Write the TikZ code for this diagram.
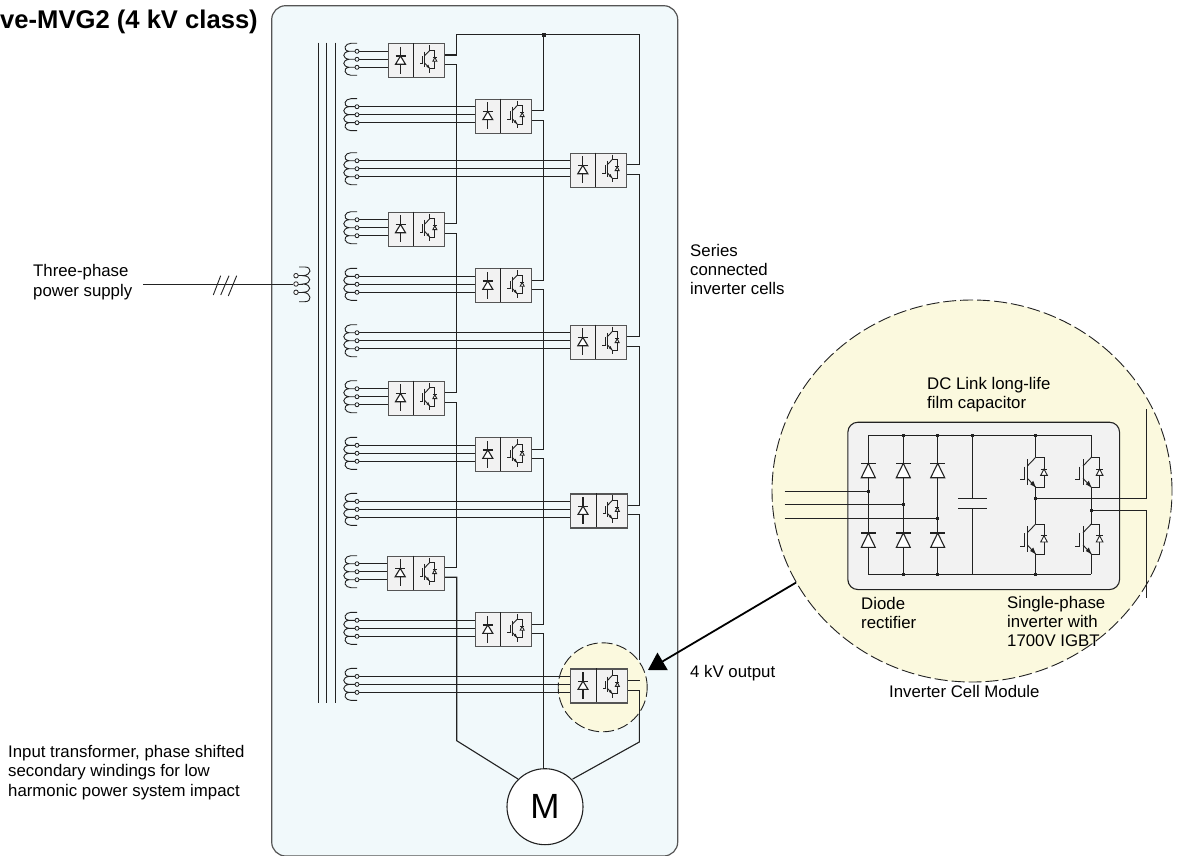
\documentclass[tikz,border=0pt]{standalone}
\usepackage{fontspec}
\setmainfont{Liberation Sans}
\usetikzlibrary{arrows.meta,shapes.geometric}
\definecolor{panelblue}{HTML}{F1F9FB}
\definecolor{cream}{HTML}{FBF9DE}
\definecolor{boxgrey}{HTML}{F2F2F2}
\definecolor{ink}{HTML}{222222}
\definecolor{edge}{HTML}{555555}
\tikzset{
  x=1pt,y=-1pt,
  wire/.style={draw=ink,line width=1.1pt},
  thin wire/.style={draw=ink,line width=.9pt},
  dot/.style={rectangle,fill=ink,inner sep=0pt,minimum size=3pt},
  tap/.style={circle,draw=ink,fill=panelblue,line width=.8pt,inner sep=0pt,minimum size=4pt},
  label text/.style={font=\fontsize{16.8}{19}\selectfont,align=left,inner sep=0pt,anchor=north west},
  igbt/.pic={
    \draw[thin wire] (0,0) -- (8.3,0) -- (8.3,30) -- (0,30);
    \draw[thin wire] (-8.3,8.7) -- (0,0);
    \draw[thin wire] (-8.3,21) -- (0,30);
    \draw[thin wire] (-8.3,2) -- (-8.3,27.7);
    \draw[thin wire] (-11.7,9.4) -- (-11.7,22) -- (-16,22);
    \fill[ink] (0,30) -- (-5.5,27) -- (-2.5,23.5) -- cycle;
    \draw[thin wire,fill=white] (8.3,11.7) -- (11.6,18) -- (5,18) -- cycle;
    \draw[thin wire] (5,11.7) -- (11.6,11.7);
  },
  diodepic/.pic={
    \draw[wire,fill=white] (0,0) -- (7,14.4) -- (-7,14.4) -- cycle;
    \draw[wire] (-7.3,0) -- (7.3,0);
  },
}
\newcommand{\cell}[3]{%
  \node[draw=edge,line width=1.1pt,fill=boxgrey,minimum width=56.5pt,minimum height=34pt,inner sep=0pt,anchor=north west] (#3) at (#1,#2) {};
  \draw[draw=ink,line width=1pt] (#1+26,#2) -- (#1+26,#2+34);
  \draw[wire] (#1+13,#2+3.7) -- (#1+13,#2+30.3);
  \draw[wire,fill=white] (#1+13,#2+12.7) -- (#1+18,#2+21) -- (#1+8,#2+21) -- cycle;
  \draw[wire] (#1+8,#2+12.7) -- (#1+18,#2+12.7);
  \draw[thin wire] (#1+42.3,#2+2) -- (#1+42.3,#2+7);
  \draw[thin wire] (#1+42.3,#2+25.3) -- (#1+42.3,#2+29.7);
  \pic[scale=.61] at (#1+42.3,#2+7) {igbt};
  \draw[thin wire] (357,#2) -- (351,#2)
     .. controls (345,#2) and (342,#2+7) .. (349,#2+8) -- (357,#2+8)
     (349,#2+8) .. controls (342,#2+9) and (342,#2+15) .. (349,#2+16) -- (357,#2+16)
     (349,#2+16) .. controls (342,#2+17) and (342,#2+23) .. (349,#2+24) -- (357,#2+24)
     (349,#2+24) .. controls (342,#2+25) and (345,#2+32) .. (351,#2+32) -- (357,#2+32);
  \draw[wire] (357,#2+8) -- (#1,#2+8) (357,#2+16) -- (#1,#2+16) (357,#2+24) -- (#1,#2+24);
  \node[tap] at (357,#2+8) {};
  \node[tap] at (357,#2+16) {};
  \node[tap] at (357,#2+24) {};
}
\begin{document}
\begin{tikzpicture}
\useasboundingbox (0,0) rectangle (1177,856);
\fill[white] (0,0) rectangle (1177,856);
\draw[draw=edge,fill=panelblue,line width=1.2pt,rounded corners=14pt] (271.7,5.7) rectangle (677.7,856);
\draw[thin wire] (318.3,42.7) -- (318.3,703) (326.7,42.7) -- (326.7,703) (335.5,42.7) -- (335.5,703);
\draw[thin wire] (299,267) -- (305,267) .. controls (312,267) and (312,275) .. (303,275.7)
  .. controls (312,276) and (312,283.5) .. (303,284)
  .. controls (312,284.5) and (312,292) .. (303,292.3)
  .. controls (312,293) and (312,301.7) .. (305,301.7) -- (299,301.7);
\draw[thin wire] (296,275.7) -- (303,275.7) (296,284) -- (303,284) (296,292.3) -- (303,292.3);
\coordinate (supply) at (143,284);
\node[tap,minimum size=4.5pt,fill=white] (p1) at (296,275.7) {};
\node[tap,minimum size=4.5pt,fill=white] (p2) at (296,284) {};
\node[tap,minimum size=4.5pt,fill=white] (p3) at (296,292.3) {};
\draw[thin wire] (supply) -- (p2);
\draw[thin wire] (213.3,295) -- (220.7,275.7) (220.7,295) -- (229,275.7) (228.3,296) -- (236.7,275.7);
\node[circle,draw=ink,fill=white,line width=1.1pt,minimum size=76pt,inner sep=0pt,font=\fontsize{35}{35}\selectfont] (motor) at (545,806.7) {M};
% series strings
\draw[wire] (444,55) -- (456.7,55) -- (456.7,34.7) -- (639.7,34.7) -- (639.7,164.7) -- (626,164.7);
\draw[wire] (543.6,34.7) -- (543.6,110.7) -- (531,110.7);
\draw[wire] (444,64.5) -- (456.7,64.5) -- (456.7,223.7) -- (444,223.7);
\draw[wire] (444,233.2) -- (456.7,233.2) -- (456.7,392.7) -- (444,392.7);
\draw[wire] (444,402.2) -- (456.7,402.2) -- (456.7,567.7) -- (444,567.7);
\draw[wire] (444,577.2) -- (456.7,577.2) -- (456.7,740.7) -- (518,779);
\draw[wire] (531,120.2) -- (543.6,120.2) -- (543.6,280.3) -- (531,280.3);
\draw[wire] (531,289.8) -- (543.6,289.8) -- (543.6,449.3) -- (531,449.3);
\draw[wire] (531,458.8) -- (543.6,458.8) -- (543.6,624.3) -- (531,624.3);
\draw[wire] (531,633.8) -- (543.6,633.8) -- (543.6,768.7);
\draw[wire] (626,174.2) -- (639.7,174.2) -- (639.7,336.7) -- (626,336.7);
\draw[wire] (626,346.2) -- (639.7,346.2) -- (639.7,505.4) -- (626,505.4);
\draw[wire] (626,514.9) -- (639.7,514.9) -- (639.7,660);
\draw[wire] (639.3,700) -- (639.3,742) -- (572.7,779);
\node[dot,minimum size=4pt] (top) at (543.6,34.7) {};
% highlight behind the twelfth cell
\node[circle,draw=ink,dash pattern=on 11pt off 4pt,fill=cream,line width=.9pt,minimum size=89pt,inner sep=0pt] (focus) at (602.7,687.3) {};
\draw[wire] (626,680.9) -- (639.5,680.9);
\draw[wire] (626,690.7) -- (639.3,690.7) -- (639.3,742);
\cell{387.5}{43.3}{c1}
\cell{474.8}{98.7}{c2}
\cell{569.8}{152.7}{c3}
\cell{387.5}{211.7}{c4}
\cell{474.8}{268.3}{c5}
\cell{569.8}{324.7}{c6}
\cell{387.5}{380.7}{c7}
\cell{474.8}{437.3}{c8}
\cell{570}{493.4}{c9}
\cell{387.2}{555.7}{c10}
\cell{474.8}{612.3}{c11}
\cell{570}{668.4}{c12}
% detail
\node[ellipse,draw=ink,dash pattern=on 13pt off 4pt,fill=cream,line width=.9pt,minimum width=400pt,minimum height=382pt,inner sep=0pt] (detail) at (972,491) {};
\node[draw=ink,fill=boxgrey,line width=1.1pt,rounded corners=10pt,minimum width=271.7pt,minimum height=167.3pt,inner sep=0pt,anchor=north west] (module) at (847.3,421.7) {};
\draw[wire] (868.3,435.3) -- (1091.3,435.3) (868.3,574.3) -- (1091.3,574.3);
\foreach \x in {868.3,903.3,937.7} \draw[wire] (\x,435.3) -- (\x,574.3);
\foreach \x in {868.3,903.3,937.7} {
  \pic at (\x,463.3) {diodepic};
  \pic at (\x,533) {diodepic};
}
\draw[thin wire] (784.5,491.3) -- (868.3,491.3) (784.5,504.7) -- (903.3,504.7) (784.5,518.3) -- (937.7,518.3);
\node[dot] at (868.3,491.3) {};
\node[dot] at (903.3,504.7) {};
\node[dot] at (937.7,518.3) {};
\foreach \x in {903.3,937.7} {
  \node[dot] at (\x,435.3) {};
  \node[dot] at (\x,574.3) {};
}
\draw[wire] (972.7,435.3) -- (972.7,498.3) (972.7,508.3) -- (972.7,574.3);
\draw[wire] (958.3,498.3) -- (987.3,498.3) (958.3,508.3) -- (987.3,508.3);
\node[dot] at (972.7,435.3) {};
\draw[wire] (1035.7,435.3) -- (1035.7,457.3) (1035.7,487.3) -- (1035.7,524) (1035.7,554) -- (1035.7,574.3);
\draw[wire] (1091.3,435.3) -- (1091.3,457.3) (1091.3,487.3) -- (1091.3,524) (1091.3,554) -- (1091.3,574.3);
\pic at (1035.7,457.3) {igbt};
\pic at (1035.7,524) {igbt};
\pic at (1091.3,457.3) {igbt};
\pic at (1091.3,524) {igbt};
\coordinate (outA) at (1146.7,409);
\coordinate (outB) at (1146.7,598);
\draw[wire] (1035.7,498.3) -- (1146.7,498.3) -- (outA);
\draw[wire] (1091.3,510.7) -- (1146.7,510.7) -- (outB);
\node[dot] at (1035.7,435.3) {};
\node[dot] at (1035.7,574.3) {};
\node[dot] at (1035.7,498.3) {};
\node[dot] at (1091.3,510.7) {};
\coordinate (arrowstart) at (796,582.6);
\coordinate (arrowend) at (648,670);
\draw[draw=black,line width=1.8pt,-{Triangle[length=17pt,width=20pt]}] (arrowstart) -- (arrowend);
\node[inner sep=0pt,anchor=east,font=\bfseries\fontsize{25.6}{28}\selectfont] (title) at (258,22) {ve-MVG2 (4 kV class)};
\node[label text,font=\fontsize{16.8}{20.5}\selectfont] (supplylabel) at (33,264) {Three-phase\\power supply};
\node[label text] (cells) at (690,244.5) {Series\\connected\\inverter cells};
\node[label text] (output) at (690,665) {4 kV output};
\node[label text,font=\fontsize{16.8}{19.5}\selectfont] (inputlabel) at (8,745) {Input transformer, phase shifted\\secondary windings for low\\harmonic power system impact};
\node[label text] (dclabel) at (927,377) {DC Link long-life\\film capacitor};
\node[label text] (rectlabel) at (861,597) {Diode\\rectifier};
\node[label text] (invlabel) at (1007,596) {Single-phase\\inverter with\\1700V IGBT};
\node[label text] (modlabel) at (889,685) {Inverter Cell Module};
\end{tikzpicture}
\end{document}
